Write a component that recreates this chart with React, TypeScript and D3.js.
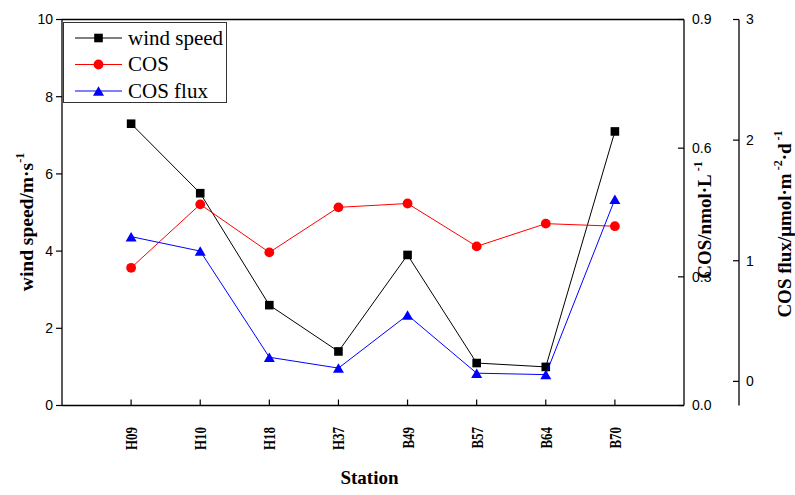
import React from "react";
import * as d3 from "d3";

const stations = ["H09", "H10", "H18", "H37", "B49", "B57", "B64", "B70"];
const windSpeed = [7.3, 5.5, 2.6, 1.4, 3.9, 1.1, 1.0, 7.1];
const cosConc = [0.321, 0.469, 0.357, 0.462, 0.471, 0.371, 0.424, 0.418];
const cosFlux = [1.2, 1.08, 0.2, 0.11, 0.55, 0.068, 0.056, 1.51];
const windTicks = [0, 2, 4, 6, 8, 10];
const cosTicks = [0, 0.3, 0.6, 0.9];
const fluxTicks = [0, 1, 2, 3];
const legendLabels = ["wind speed", "COS", "COS flux"];

const W = 795;
const H = 495;
const L = 62;
const R = 684;
const T = 19.5;
const B = 405.5;
const FLUX_X = 739;

const serif = "'Liberation Serif', 'Times New Roman', 'DejaVu Serif', serif";
const sans = "'Liberation Sans', Arial, sans-serif";

function Marker({ kind, x, y }: { kind: number; x: number; y: number }) {
  if (kind === 0) {
    const s = 8.6;
    return <rect x={x - s / 2} y={y - s / 2} width={s} height={s} fill="#000" />;
  }
  if (kind === 1) {
    return <circle cx={x} cy={y} r={4.9} fill="#ff0000" />;
  }
  const w = 11;
  const h = 9.5;
  return (
    <path
      d={`M${x},${y - h / 2}L${x + w / 2},${y + h / 2}L${x - w / 2},${y + h / 2}Z`}
      fill="#0000ff"
    />
  );
}

export default function App() {
  const x = d3.scalePoint<string>().domain(stations).range([L, R]).padding(1);
  const yWind = d3.scaleLinear().domain([0, 10]).range([B, T]);
  const yCos = d3.scaleLinear().domain([0, 0.9]).range([B, T]);
  const yFlux = d3.scaleLinear().domain([-0.2, 3]).range([B, T]);

  const series = [
    { vals: windSpeed, y: yWind, color: "#000000" },
    { vals: cosConc, y: yCos, color: "#ff0000" },
    { vals: cosFlux, y: yFlux, color: "#0000ff" },
  ];

  const fmtCos = d3.format(".1f");

  return (
    <svg
      width={W}
      height={H}
      style={{ position: "absolute", left: 0, top: 0, background: "#fff" }}
    >
      <rect width={W} height={H} fill="#fff" />
      {/* frame */}
      <line x1={L} y1={T} x2={R} y2={T} stroke="#000" strokeWidth={1.3} />
      <line x1={L} y1={T} x2={L} y2={B} stroke="#000" strokeWidth={1.3} />
      <line x1={L} y1={B} x2={R} y2={B} stroke="#000" strokeWidth={1.4} />
      <line x1={R} y1={T} x2={R} y2={B} stroke="#000" strokeWidth={1.3} />

      {/* left axis */}
      {windTicks.map((t) => (
        <g key={"w" + t}>
          <line x1={L - 6} x2={L} y1={yWind(t)} y2={yWind(t)} stroke="#000" strokeWidth={1.2} />
          <text
            x={L - 9}
            y={yWind(t)}
            dy="0.35em"
            textAnchor="end"
            fontFamily={sans}
            fontSize={14}
            fill="#000"
          >
            {t}
          </text>
        </g>
      ))}
      <text
        transform={`translate(33,222) rotate(-90)`}
        textAnchor="middle"
        fontFamily={serif}
        fontWeight="bold"
        fontSize={19.5}
        fill="#000"
      >
        wind speed/m·s
        <tspan fontSize={12} dy={-9}>-1</tspan>
      </text>

      {/* bottom axis */}
      {stations.map((s) => (
        <g key={s}>
          <line x1={x(s)!} x2={x(s)!} y1={B} y2={B - 6} stroke="#000" strokeWidth={1.2} />
          <text
            transform={`translate(${x(s)},427) rotate(-90) scale(0.76,1)`}
            textAnchor="end"
            dy="0.35em"
            fontFamily={serif}
            fontWeight="bold"
            fontSize={17}
            fill="#000"
          >
            {s}
          </text>
        </g>
      ))}
      <text
        x={369.5}
        y={484.3}
        textAnchor="middle"
        fontFamily={serif}
        fontWeight="bold"
        fontSize={19}
        fill="#000"
      >
        Station
      </text>

      {/* COS axis (right frame) */}
      {cosTicks.map((t) => (
        <g key={"c" + t}>
          <line x1={R - 6} x2={R} y1={yCos(t)} y2={yCos(t)} stroke="#000" strokeWidth={1.2} />
          <text
            x={692}
            y={yCos(t)}
            dy="0.35em"
            textAnchor="start"
            fontFamily={sans}
            fontSize={14}
            fill="#000"
          >
            {fmtCos(t)}
          </text>
        </g>
      ))}
      <text
        transform={`translate(711,220) rotate(-90)`}
        textAnchor="middle"
        fontFamily={serif}
        fontWeight="bold"
        fontSize={19}
        fill="#000"
      >
        COS/nmol·L
        <tspan fontSize={12} dy={-9}> -1</tspan>
      </text>

      {/* flux axis */}
      <line x1={FLUX_X} x2={FLUX_X} y1={T} y2={B} stroke="#000" strokeWidth={1.3} />
      {fluxTicks.map((t) => (
        <g key={"f" + t}>
          <line
            x1={FLUX_X - 6}
            x2={FLUX_X}
            y1={yFlux(t)}
            y2={yFlux(t)}
            stroke="#000"
            strokeWidth={1.2}
          />
          <text
            x={FLUX_X + 7}
            y={yFlux(t)}
            dy="0.35em"
            textAnchor="start"
            fontFamily={sans}
            fontSize={14}
            fill="#000"
          >
            {t}
          </text>
        </g>
      ))}
      <text
        transform={`translate(791,224) rotate(-90)`}
        textAnchor="middle"
        fontFamily={serif}
        fontWeight="bold"
        fontSize={19}
        fill="#000"
      >
        COS flux/μmol·m
        <tspan fontSize={12} dy={-9}> -2</tspan>
        <tspan fontSize={19} dy={9}>·d</tspan>
        <tspan fontSize={12} dy={-9}> -1</tspan>
      </text>

      {/* series */}
      {series.map((s, i) => {
        const line = d3
          .line<number>()
          .x((_, j) => x(stations[j])!)
          .y((v) => s.y(v));
        return (
          <g key={"s" + i}>
            <path d={line(s.vals)!} fill="none" stroke={s.color} strokeWidth={1} />
            {s.vals.map((v, j) => (
              <Marker key={j} kind={i} x={x(stations[j])!} y={s.y(v)} />
            ))}
          </g>
        );
      })}

      {/* legend */}
      <rect x={63.5} y={22.5} width={163} height={80} fill="#fff" stroke="#333" strokeWidth={1} />
      {legendLabels.map((lab, i) => {
        const cy = 38 + i * 26.5;
        return (
          <g key={lab}>
            <line x1={75} x2={122} y1={cy} y2={cy} stroke={series[i].color} strokeWidth={1} />
            <Marker kind={i} x={98.5} y={cy} />
            <text
              x={128}
              y={cy + 6.5}
              fontFamily={serif}
              fontSize={21}
              fill="#000"
            >
              {lab}
            </text>
          </g>
        );
      })}
    </svg>
  );
}
